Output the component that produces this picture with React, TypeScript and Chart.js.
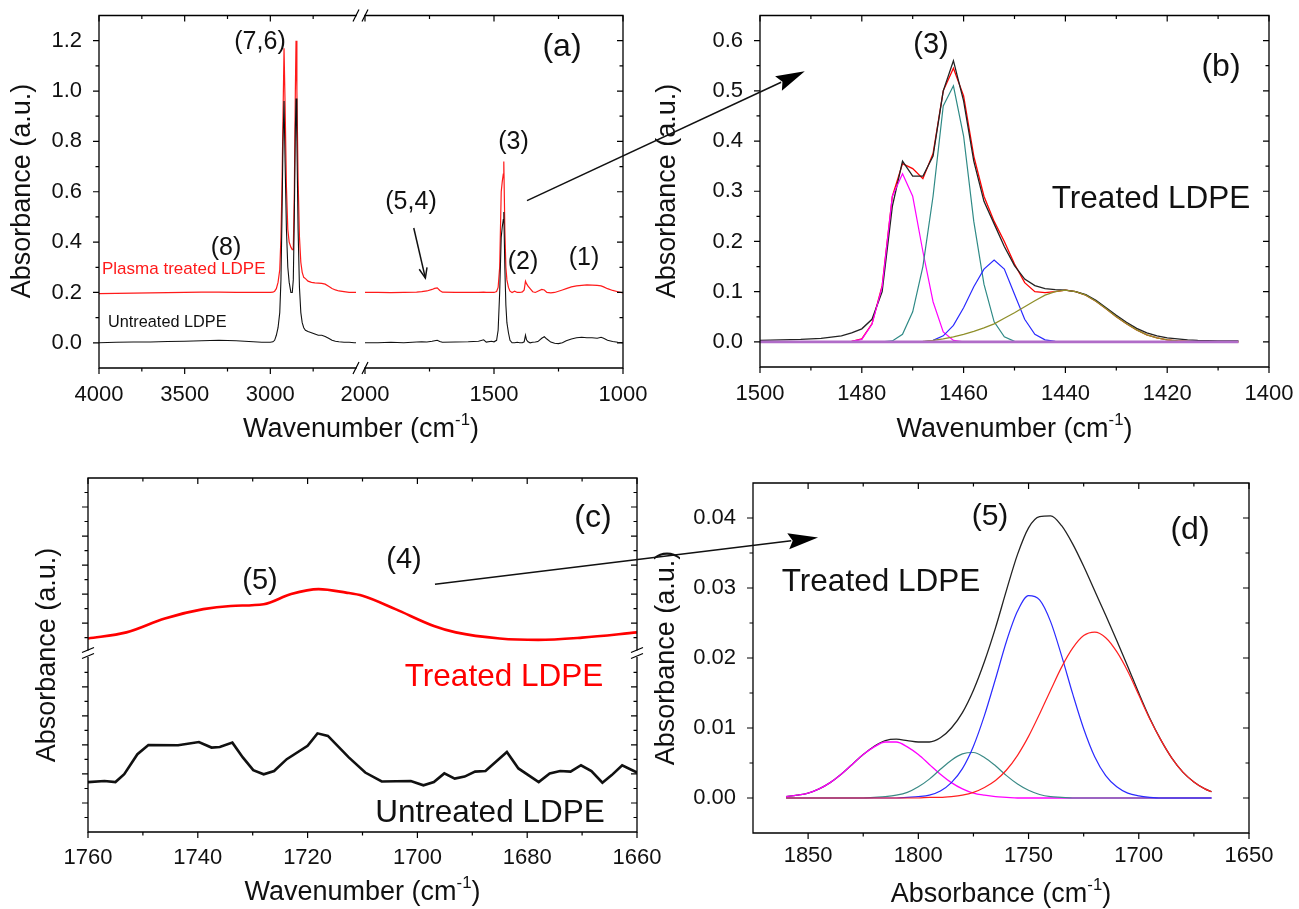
import { useEffect, useRef } from "react";
import { Chart, registerables } from "chart.js";

Chart.register(...registerables);

const FONT = "'Liberation Sans', Arial, Helvetica, sans-serif";
const W = 1299;
const H = 909;

// ---------------- Panel (a): full spectra (broken wavenumber axis) ----------------
const A_L_WN = [4000, 3900, 3800, 3700, 3600, 3500, 3400, 3300, 3200, 3100, 3050, 3000, 2985, 2975, 2965, 2955, 2945, 2938, 2932, 2926, 2920, 2914, 2906, 2898, 2890, 2880, 2872, 2866, 2860, 2854, 2850, 2845, 2838, 2830, 2822, 2814, 2805, 2795, 2780, 2760, 2740, 2720, 2700, 2680, 2660, 2640, 2620, 2600, 2570, 2540, 2510, 2500];
const A_L_TREATED = [0.195, 0.196, 0.197, 0.198, 0.199, 0.2, 0.201, 0.201, 0.2, 0.2, 0.2, 0.2, 0.201, 0.205, 0.215, 0.24, 0.29, 0.42, 0.62, 0.9, 1.17, 0.95, 0.62, 0.45, 0.4, 0.38, 0.37, 0.37, 0.6, 1.0, 1.2, 1.0, 0.65, 0.42, 0.32, 0.28, 0.26, 0.255, 0.245, 0.24, 0.238, 0.237, 0.236, 0.233, 0.225, 0.216, 0.21, 0.206, 0.203, 0.2, 0.2, 0.2];
const A_L_UNTREATED = [0.0, 0.002, 0.003, 0.003, 0.005, 0.006, 0.008, 0.01, 0.008, 0.004, 0.002, 0.002, 0.004, 0.01, 0.03, 0.06, 0.12, 0.25, 0.5, 0.8, 0.96, 0.72, 0.45, 0.3, 0.24, 0.2, 0.2, 0.25, 0.5, 0.85, 0.97, 0.8, 0.45, 0.22, 0.12, 0.08, 0.06, 0.05, 0.045, 0.04, 0.035, 0.03, 0.03, 0.025, 0.018, 0.01, 0.006, 0.004, 0.002, 0.002, 0.0, 0.0];
const A_R_WN = [2000, 1950, 1900, 1850, 1800, 1780, 1760, 1740, 1730, 1720, 1710, 1700, 1650, 1600, 1560, 1540, 1530, 1510, 1500, 1490, 1484, 1478, 1472, 1468, 1464, 1462, 1458, 1454, 1450, 1444, 1438, 1430, 1420, 1410, 1400, 1390, 1383, 1378, 1374, 1368, 1360, 1350, 1340, 1330, 1315, 1305, 1295, 1280, 1265, 1250, 1235, 1220, 1200, 1180, 1160, 1140, 1120, 1100, 1085, 1075, 1060, 1040, 1020, 1000];
const A_R_TREATED = [0.2, 0.2, 0.199, 0.2, 0.201, 0.203, 0.206, 0.212, 0.216, 0.218, 0.208, 0.201, 0.2, 0.2, 0.2, 0.201, 0.2, 0.2, 0.2, 0.204, 0.22, 0.3, 0.6, 0.64, 0.67, 0.72, 0.45, 0.3, 0.25, 0.22, 0.205, 0.2, 0.205, 0.2, 0.2, 0.202, 0.21, 0.245, 0.235, 0.225, 0.215, 0.203, 0.2, 0.205, 0.212, 0.21, 0.2, 0.198, 0.2, 0.205, 0.21, 0.215, 0.222, 0.226, 0.228, 0.23, 0.229, 0.228, 0.226, 0.222, 0.215, 0.208, 0.203, 0.198];
const A_R_UNTREATED = [0.0, 0.0, 0.002, 0.0, 0.003, 0.004, 0.003, 0.006, 0.008, 0.01, 0.005, 0.002, 0.003, 0.004, 0.006, 0.012, 0.003, 0.006, 0.004, 0.01, 0.05, 0.2, 0.42, 0.46, 0.49, 0.52, 0.3, 0.15, 0.08, 0.04, 0.01, 0.0, 0.0, 0.002, 0.0, 0.0, 0.004, 0.03, 0.012, 0.004, 0.0, 0.002, 0.003, 0.005, 0.018, 0.024, 0.015, 0.003, -0.002, -0.003, 0.0, 0.008, 0.015, 0.02, 0.022, 0.02, 0.02, 0.018, 0.022, 0.018, 0.01, 0.005, 0.002, 0.0];
const A_Y_LABELS = [0, 0.2, 0.4, 0.6, 0.8, 1.0, 1.2];
const A_Y_MINOR = [0.1, 0.3, 0.5, 0.7, 0.9, 1.1];
const A_L_X_LABELS = [4000, 3500, 3000];
const A_L_X_MINOR = [3750, 3250, 2750];
const A_R_X_LABELS = [2000, 1500, 1000];
const A_R_X_MINOR = [1750, 1250];

// ---------------- Panel (b): 1500-1400 deconvolution ----------------
const B_MEAS_WN = [1500, 1496, 1492, 1488, 1484, 1482, 1480, 1478, 1476, 1474, 1472, 1470, 1468, 1466, 1464, 1462, 1460, 1458, 1456, 1454, 1452, 1450, 1448, 1446, 1444, 1442, 1440, 1438, 1436, 1434, 1432, 1430, 1428, 1426, 1424, 1422, 1420, 1418, 1416, 1414, 1410, 1406];
const B_MEAS = [0.003, 0.004, 0.005, 0.007, 0.012, 0.018, 0.026, 0.045, 0.1, 0.27, 0.36, 0.33, 0.33, 0.37, 0.5, 0.56, 0.48, 0.36, 0.28, 0.235, 0.19, 0.152, 0.125, 0.112, 0.106, 0.104, 0.103, 0.1, 0.094, 0.083, 0.068, 0.053, 0.039, 0.027, 0.018, 0.012, 0.008, 0.006, 0.004, 0.003, 0.002, 0.002];
const B_FIT_WN = [1484, 1482, 1480, 1478, 1476, 1474, 1472, 1470, 1468, 1466, 1464, 1462, 1460, 1458, 1456, 1454, 1452, 1450, 1448, 1446, 1444, 1442, 1440, 1438, 1436, 1434, 1432, 1430, 1428, 1426, 1424, 1422, 1420, 1418, 1416, 1414, 1410, 1406];
const B_FIT = [0.0, 0.001, 0.006, 0.036, 0.112, 0.29, 0.355, 0.345, 0.325, 0.375, 0.5, 0.545, 0.49, 0.37, 0.29, 0.24, 0.2, 0.155, 0.118, 0.1, 0.098, 0.1, 0.103, 0.1, 0.093, 0.081, 0.066, 0.05, 0.036, 0.024, 0.014, 0.008, 0.004, 0.002, 0.001, 0.0, 0.0, 0.0];
const B_P1_WN = [1484, 1482, 1480, 1478, 1476, 1474, 1472, 1470, 1468, 1466, 1464, 1462, 1460];
const B_P1 = [0, 0.001, 0.005, 0.035, 0.11, 0.29, 0.335, 0.29, 0.18, 0.08, 0.02, 0.003, 0];
const B_P2_WN = [1476, 1474, 1472, 1470, 1468, 1466, 1464, 1462, 1460, 1458, 1456, 1454, 1452, 1450, 1448];
const B_P2 = [0, 0.002, 0.015, 0.06, 0.15, 0.29, 0.47, 0.51, 0.41, 0.24, 0.115, 0.04, 0.01, 0.001, 0];
const B_P3_WN = [1468, 1466, 1464, 1462, 1460, 1458, 1456, 1454, 1452, 1450, 1448, 1446, 1444, 1442, 1440];
const B_P3 = [0, 0.003, 0.012, 0.033, 0.068, 0.11, 0.145, 0.163, 0.145, 0.095, 0.045, 0.015, 0.004, 0.001, 0];
const B_P4_WN = [1472, 1468, 1466, 1464, 1462, 1460, 1458, 1456, 1454, 1452, 1450, 1448, 1446, 1444, 1442, 1440, 1438, 1436, 1434, 1432, 1430, 1428, 1426, 1424, 1422, 1420, 1418, 1416, 1414, 1410, 1406];
const B_P4 = [0, 0.001, 0.003, 0.006, 0.01, 0.015, 0.021, 0.028, 0.036, 0.047, 0.058, 0.07, 0.082, 0.093, 0.1, 0.103, 0.1, 0.093, 0.081, 0.066, 0.05, 0.036, 0.024, 0.014, 0.008, 0.004, 0.002, 0.001, 0, 0, 0];
const B_BASE_WN = [1500, 1406];
const B_BASE = [0, 0];
const B_Y_LABELS = [0, 0.1, 0.2, 0.3, 0.4, 0.5, 0.6];
const B_Y_MINOR = [0.05, 0.15, 0.25, 0.35, 0.45, 0.55];
const B_X_LABELS = [1500, 1480, 1460, 1440, 1420, 1400];
const B_X_MINOR = [1490, 1470, 1450, 1430, 1410];

// ---------------- Panel (c): carbonyl region, offset traces ----------------
const C_TREATED_WN = [1760, 1753, 1746, 1739, 1734, 1728, 1723, 1718, 1713, 1710, 1704, 1697, 1693, 1685, 1678, 1670, 1660];
const C_TREATED = [5.67, 5.88, 6.36, 6.68, 6.79, 6.85, 7.2, 7.37, 7.25, 7.14, 6.68, 6.1, 5.88, 5.67, 5.62, 5.7, 5.88];
const C_UNTREATED_WN = [1760, 1757, 1755, 1753.4, 1751, 1749, 1743.6, 1739.8, 1737.5, 1736, 1733.7, 1731.8, 1729.9, 1728, 1726.1, 1723.8, 1720, 1718.2, 1716.3, 1712.5, 1709.5, 1706.5, 1701.2, 1698.9, 1697, 1695.1, 1693.2, 1691.4, 1689.5, 1687.6, 1683.7, 1681.6, 1677.9, 1675.9, 1674, 1672.1, 1670.2, 1668.3, 1666.3, 1664.6, 1662.7, 1660];
const C_UNTREATED = [0.72, 0.76, 0.72, 0.99, 1.68, 2.0, 1.99, 2.1, 1.91, 1.93, 2.08, 1.57, 1.13, 0.99, 1.1, 1.51, 1.97, 2.4, 2.31, 1.57, 1.05, 0.74, 0.76, 0.61, 0.72, 1.02, 0.84, 0.91, 1.08, 1.1, 1.76, 1.19, 0.72, 1.02, 1.1, 1.08, 1.3, 1.1, 0.7, 0.96, 1.3, 1.05];
const C_Y_MAJOR = [0, 1, 2, 3, 4, 6.2, 7.2, 8.2, 9.2, 10.2];
const C_Y_MINOR = [-0.5, 0.5, 1.5, 2.5, 3.5, 4.5, 5.7, 6.7, 7.7, 8.7, 9.7, 10.7];
const C_X_LABELS = [1760, 1740, 1720, 1700, 1680, 1660];
const C_X_MINOR = [1750, 1730, 1710, 1690, 1670];

// ---------------- Panel (d): 1860-1667 deconvolution ----------------
const D_WN = [1860, 1855, 1850, 1845, 1840, 1835, 1830, 1825, 1820, 1815, 1810, 1805, 1800, 1795, 1790, 1785, 1780, 1775, 1770, 1765, 1760, 1755, 1750, 1745, 1740, 1735, 1730, 1725, 1720, 1715, 1710, 1705, 1700, 1695, 1690, 1685, 1680, 1675, 1670, 1667];
const D_TOTAL = [0.0002, 0.0004, 0.0007, 0.0013, 0.0022, 0.0034, 0.0048, 0.0062, 0.0074, 0.0082, 0.0084, 0.0082, 0.008, 0.008, 0.0086, 0.01, 0.0122, 0.0154, 0.0195, 0.0243, 0.0297, 0.0348, 0.0386, 0.0402, 0.0403, 0.0389, 0.0363, 0.0331, 0.0296, 0.0261, 0.0225, 0.0188, 0.015, 0.0114, 0.0083, 0.0057, 0.0037, 0.0023, 0.0013, 0.0009];
const D_P1 = [0.0002, 0.0004, 0.0007, 0.0013, 0.0022, 0.0034, 0.0048, 0.0062, 0.0073, 0.008, 0.008, 0.0073, 0.0062, 0.0048, 0.0034, 0.0022, 0.0013, 0.0007, 0.0004, 0.0002, 0.0001, 0, 0, 0, 0, 0, 0, 0, 0, 0, 0, 0, 0, 0, 0, 0, 0, 0, 0, 0];
const D_P2 = [0, 0, 0, 0, 0, 0, 0, 0, 0.0001, 0.0002, 0.0004, 0.0008, 0.0016, 0.0027, 0.0041, 0.0054, 0.0063, 0.0065, 0.0058, 0.0046, 0.0032, 0.002, 0.0011, 0.0005, 0.0002, 0.0001, 0, 0, 0, 0, 0, 0, 0, 0, 0, 0, 0, 0, 0, 0];
const D_P3 = [0, 0, 0, 0, 0, 0, 0, 0, 0, 0, 0, 0.0001, 0.0002, 0.0004, 0.001, 0.0022, 0.0042, 0.0074, 0.0118, 0.017, 0.0224, 0.0267, 0.0289, 0.0283, 0.0252, 0.0203, 0.0149, 0.0099, 0.0059, 0.0032, 0.0016, 0.0007, 0.0003, 0.0001, 0, 0, 0, 0, 0, 0];
const D_P4 = [0, 0, 0, 0, 0, 0, 0, 0, 0, 0, 0, 0, 0, 0.0001, 0.0001, 0.0002, 0.0004, 0.0008, 0.0015, 0.0025, 0.004, 0.0061, 0.0088, 0.012, 0.0154, 0.0187, 0.0214, 0.0232, 0.0237, 0.0229, 0.0209, 0.0181, 0.0147, 0.0113, 0.0083, 0.0057, 0.0037, 0.0023, 0.0013, 0.0009];
const D_Y_LABELS = [0, 0.01, 0.02, 0.03, 0.04];
const D_Y_MINOR = [0.005, 0.015, 0.025, 0.035];
const D_X_LABELS = [1850, 1800, 1750, 1700, 1650];
const D_X_MINOR = [1825, 1775, 1725, 1675];

// ---------------- helpers ----------------
type Part = { t: string; sup?: boolean };
type TextItem = { t: string; x: number; y: number; size: number; color?: string; align?: CanvasTextAlign };

const pts = (xs: number[], ys: number[]) => xs.map((x, i) => ({ x, y: ys[i] }));

function drawRich(ctx: CanvasRenderingContext2D, parts: Part[], cx: number, cy: number, size: number, rotate: boolean) {
  ctx.save();
  ctx.translate(cx, cy);
  if (rotate) ctx.rotate(-Math.PI / 2);
  ctx.fillStyle = "#111";
  ctx.textBaseline = "middle";
  ctx.textAlign = "left";
  const sup = size * 0.62;
  const widths = parts.map((p) => {
    ctx.font = `${p.sup ? sup : size}px ${FONT}`;
    return ctx.measureText(p.t).width;
  });
  const total = widths.reduce((a, b) => a + b, 0);
  let x = -total / 2;
  parts.forEach((p, i) => {
    ctx.font = `${p.sup ? sup : size}px ${FONT}`;
    ctx.fillText(p.t, x, p.sup ? -size * 0.34 : 0);
    x += widths[i];
  });
  ctx.restore();
}

function drawTexts(ctx: CanvasRenderingContext2D, items: TextItem[]) {
  items.forEach((it) => {
    ctx.save();
    ctx.font = `${it.size}px ${FONT}`;
    ctx.fillStyle = it.color || "#111";
    ctx.textAlign = it.align || "center";
    ctx.textBaseline = "middle";
    ctx.fillText(it.t, it.x, it.y);
    ctx.restore();
  });
}

function drawArrow(ctx: CanvasRenderingContext2D, x1: number, y1: number, x2: number, y2: number, len: number, half: number, filled: boolean) {
  const ang = Math.atan2(y2 - y1, x2 - x1);
  const bx = x2 - len * Math.cos(ang);
  const by = y2 - len * Math.sin(ang);
  const nx = -Math.sin(ang);
  const ny = Math.cos(ang);
  ctx.save();
  ctx.setLineDash([]);
  ctx.strokeStyle = "#111";
  ctx.fillStyle = "#000";
  ctx.lineWidth = 1.5;
  ctx.beginPath();
  ctx.moveTo(x1, y1);
  ctx.lineTo(filled ? bx + len * 0.1 * Math.cos(ang) : x2, filled ? by + len * 0.1 * Math.sin(ang) : y2);
  ctx.stroke();
  ctx.beginPath();
  if (filled) {
    ctx.moveTo(x2, y2);
    ctx.lineTo(bx + nx * half, by + ny * half);
    ctx.lineTo(bx + len * 0.15 * Math.cos(ang), by + len * 0.15 * Math.sin(ang));
    ctx.lineTo(bx - nx * half, by - ny * half);
    ctx.closePath();
    ctx.fill();
  } else {
    ctx.moveTo(bx + nx * half, by + ny * half);
    ctx.lineTo(x2, y2);
    ctx.lineTo(bx - nx * half, by - ny * half);
    ctx.stroke();
  }
  ctx.restore();
}

type Deco = {
  frame: { left?: boolean; right?: boolean; top?: boolean; bottom?: boolean };
  xMajor: number[];
  xMinor: number[];
  yMajor: number[];
  yMinor: number[];
};

const MAJ = 6;
const MIN = 3.5;

function drawFrame(ctx: CanvasRenderingContext2D, chart: any, d: Deco) {
  const ca = chart.chartArea;
  const xs = chart.scales.x;
  const ys = chart.scales.y;
  const f = d.frame;
  ctx.save();
  ctx.setLineDash([]);
  ctx.globalAlpha = 1;
  ctx.strokeStyle = "#000";
  ctx.lineWidth = 1.3;
  ctx.lineCap = "square";
  ctx.beginPath();
  if (f.left) { ctx.moveTo(ca.left, ca.top); ctx.lineTo(ca.left, ca.bottom); }
  if (f.right) { ctx.moveTo(ca.right, ca.top); ctx.lineTo(ca.right, ca.bottom); }
  if (f.top) { ctx.moveTo(ca.left, ca.top); ctx.lineTo(ca.right, ca.top); }
  if (f.bottom) { ctx.moveTo(ca.left, ca.bottom); ctx.lineTo(ca.right, ca.bottom); }
  ctx.stroke();
  ctx.lineCap = "butt";
  ctx.lineWidth = 1.2;
  ctx.beginPath();
  const tx = (v: number, len: number) => {
    const p = xs.getPixelForValue(v);
    if (f.bottom) { ctx.moveTo(p, ca.bottom); ctx.lineTo(p, ca.bottom + len); }
    if (f.top) { ctx.moveTo(p, ca.top); ctx.lineTo(p, ca.top + len); }
  };
  const ty = (v: number, len: number) => {
    const p = ys.getPixelForValue(v);
    if (f.left) { ctx.moveTo(ca.left, p); ctx.lineTo(ca.left - len, p); }
    if (f.right) { ctx.moveTo(ca.right, p); ctx.lineTo(ca.right - len, p); }
  };
  d.xMajor.forEach((v) => tx(v, MAJ));
  d.xMinor.forEach((v) => tx(v, MIN));
  d.yMajor.forEach((v) => ty(v, MAJ));
  d.yMinor.forEach((v) => ty(v, MIN));
  ctx.stroke();
  ctx.restore();
}

const YW = 75;
const XH = 40;

function xAxis(min: number, max: number, labels: number[], fmt: (v: number) => string, padding: number) {
  return {
    type: "linear",
    reverse: true,
    min,
    max,
    grid: { display: false, drawTicks: false },
    border: { display: false },
    ticks: { autoSkip: false, maxRotation: 0, padding, color: "#111", font: { family: FONT, size: 22 }, callback: (v: any) => fmt(Number(v)) },
    afterBuildTicks: (s: any) => { s.ticks = labels.map((value) => ({ value })); },
    afterFit: (s: any) => { s.height = XH; s.paddingLeft = 0; s.paddingRight = 0; s.paddingTop = 0; s.paddingBottom = 0; },
  };
}

function yAxis(min: number, max: number, labels: number[], fmt: (v: number) => string, show: boolean) {
  return {
    type: "linear",
    min,
    max,
    display: show,
    grid: { display: false, drawTicks: false },
    border: { display: false },
    ticks: { autoSkip: false, padding: 17, color: "#111", font: { family: FONT, size: 22 }, callback: (v: any) => fmt(Number(v)) },
    afterBuildTicks: (s: any) => { s.ticks = labels.map((value) => ({ value })); },
    afterFit: (s: any) => { s.width = show ? YW : 0; s.paddingLeft = 0; s.paddingRight = 0; s.paddingTop = 0; s.paddingBottom = 0; },
  };
}

function area(left: number, right: number, top: number, bottom: number, yShown: boolean) {
  return { left: left - (yShown ? YW : 0), right: W - right, top, bottom: H - bottom - XH };
}

function baseOptions(pad: any, x: any, y: any) {
  return {
    responsive: false,
    maintainAspectRatio: false,
    animation: false,
    devicePixelRatio: 1,
    events: [],
    layout: { padding: pad },
    plugins: { legend: { display: false }, tooltip: { enabled: false } },
    elements: { point: { radius: 0 }, line: { tension: 0 } },
    scales: { x, y },
  };
}

const ds = (data: any[], color: string, width: number, smooth = false) => ({
  data,
  borderColor: color,
  borderWidth: width,
  pointRadius: 0,
  fill: false,
  cubicInterpolationMode: smooth ? "monotone" : "default",
});

const f1 = (v: number) => v.toFixed(1);
const f2 = (v: number) => v.toFixed(2);
const f0 = (v: number) => String(Math.round(v));

const WAVENUMBER: Part[] = [{ t: "Wavenumber (cm" }, { t: "-1", sup: true }, { t: ")" }];
const ABS_CM: Part[] = [{ t: "Absorbance (cm" }, { t: "-1", sup: true }, { t: ")" }];
const ABS_AU: Part[] = [{ t: "Absorbance (a.u.)" }];

const TEXTS: TextItem[] = [
  { t: "(7,6)", x: 260, y: 42, size: 25 },
  { t: "(8)", x: 226, y: 248, size: 25 },
  { t: "Plasma treated LDPE", x: 102, y: 269, size: 17, color: "#ff1a1a", align: "left" },
  { t: "Untreated LDPE", x: 108, y: 323, size: 16.3, align: "left" },
  { t: "(5,4)", x: 411, y: 202, size: 25 },
  { t: "(3)", x: 513.5, y: 142, size: 25 },
  { t: "(2)", x: 523, y: 262, size: 25 },
  { t: "(1)", x: 584, y: 258, size: 25 },
  { t: "(a)", x: 562, y: 47, size: 32 },
  { t: "(3)", x: 931, y: 45, size: 29 },
  { t: "(b)", x: 1221, y: 67, size: 32 },
  { t: "Treated LDPE", x: 1151, y: 199, size: 31.5 },
  { t: "(c)", x: 593, y: 518, size: 32 },
  { t: "(4)", x: 404, y: 560, size: 29 },
  { t: "(5)", x: 260, y: 581, size: 29 },
  { t: "Treated LDPE", x: 504, y: 677, size: 31.5, color: "#ff0000" },
  { t: "Untreated LDPE", x: 490, y: 813, size: 31.5 },
  { t: "(5)", x: 990, y: 517, size: 30 },
  { t: "(d)", x: 1190, y: 530, size: 32 },
  { t: "Treated LDPE", x: 881, y: 582, size: 31.5 },
];

const canvasStyle: any = { position: "absolute", left: 0, top: 0, width: W, height: H };

export default function App() {
  const r1 = useRef<HTMLCanvasElement>(null);
  const r2 = useRef<HTMLCanvasElement>(null);
  const r3 = useRef<HTMLCanvasElement>(null);
  const r4 = useRef<HTMLCanvasElement>(null);
  const r5 = useRef<HTMLCanvasElement>(null);
  const rOver = useRef<HTMLCanvasElement>(null);

  useEffect(() => {
    const aL = new Chart(r1.current as HTMLCanvasElement, {
      type: "line",
      data: { datasets: [ds(pts(A_L_WN, A_L_UNTREATED), "#111", 1.1), ds(pts(A_L_WN, A_L_TREATED), "#ff1a1a", 1.2)] },
      options: baseOptions(area(99, 356, 15.5, 368, true), xAxis(2500, 4000, A_L_X_LABELS, f0, 14), yAxis(-0.1, 1.3, A_Y_LABELS, f1, true)) as any,
    } as any);

    const aR = new Chart(r2.current as HTMLCanvasElement, {
      type: "line",
      data: { datasets: [ds(pts(A_R_WN, A_R_UNTREATED), "#111", 1.1), ds(pts(A_R_WN, A_R_TREATED), "#ff1a1a", 1.2)] },
      options: baseOptions(area(365, 623, 15.5, 368, false), xAxis(1000, 2000, A_R_X_LABELS, f0, 14), yAxis(-0.1, 1.3, A_Y_LABELS, f1, false)) as any,
    } as any);

    const b = new Chart(r3.current as HTMLCanvasElement, {
      type: "line",
      data: {
        datasets: [
          ds(pts(B_BASE_WN, B_BASE), "#b06cc8", 2.6),
          ds(pts(B_P4_WN, B_P4), "#8f8f2a", 1.3),
          ds(pts(B_P3_WN, B_P3), "#2a2aff", 1.2),
          ds(pts(B_P2_WN, B_P2), "#2f8a86", 1.2),
          ds(pts(B_P1_WN, B_P1), "#ff00ff", 1.2),
          ds(pts(B_MEAS_WN, B_MEAS), "#222", 1.3),
          ds(pts(B_FIT_WN, B_FIT), "#ff0000", 1.3),
        ],
      },
      options: baseOptions(area(760, 1269, 15.5, 367, true), xAxis(1400, 1500, B_X_LABELS, f0, 14), yAxis(-0.05, 0.65, B_Y_LABELS, f1, true)) as any,
    } as any);

    const c = new Chart(r4.current as HTMLCanvasElement, {
      type: "line",
      data: { datasets: [ds(pts(C_UNTREATED_WN, C_UNTREATED), "#111", 2.6), ds(pts(C_TREATED_WN, C_TREATED), "#ff0000", 2.6, true)] },
      options: baseOptions(area(88, 637, 478, 832, false), xAxis(1660, 1760, C_X_LABELS, f0, 13), yAxis(-1, 11.2, C_Y_MAJOR, f1, false)) as any,
    } as any);

    const d = new Chart(r5.current as HTMLCanvasElement, {
      type: "line",
      data: {
        datasets: [
          ds(pts(D_WN, D_P4), "#ff2020", 1.2, true),
          ds(pts(D_WN, D_P3), "#2a2aff", 1.2, true),
          ds(pts(D_WN, D_P2), "#3a8a86", 1.2, true),
          ds(pts(D_WN, D_P1), "#ff00ff", 1.3, true),
          ds(pts(D_WN, D_TOTAL), "#222", 1.3, true),
        ],
      },
      options: baseOptions(area(753, 1249, 483, 833, true), xAxis(1650, 1875, D_X_LABELS, f0, 10), yAxis(-0.005, 0.045, D_Y_LABELS, f2, true)) as any,
    } as any);

    // overlay: frames, ticks, breaks, titles, labels, arrows
    const oc = rOver.current as HTMLCanvasElement;
    const ctx = oc.getContext("2d") as CanvasRenderingContext2D;
    ctx.clearRect(0, 0, W, H);

    drawFrame(ctx, aL, { frame: { left: true, top: true, bottom: true }, xMajor: A_L_X_LABELS, xMinor: A_L_X_MINOR, yMajor: A_Y_LABELS, yMinor: A_Y_MINOR });
    drawFrame(ctx, aR, { frame: { right: true, top: true, bottom: true }, xMajor: A_R_X_LABELS, xMinor: A_R_X_MINOR, yMajor: A_Y_LABELS, yMinor: A_Y_MINOR });
    drawFrame(ctx, b, { frame: { left: true, right: true, top: true, bottom: true }, xMajor: B_X_LABELS, xMinor: B_X_MINOR, yMajor: B_Y_LABELS, yMinor: B_Y_MINOR });
    drawFrame(ctx, c, { frame: { left: true, right: true, top: true, bottom: true }, xMajor: C_X_LABELS, xMinor: C_X_MINOR, yMajor: C_Y_MAJOR, yMinor: C_Y_MINOR });
    drawFrame(ctx, d, { frame: { left: true, right: true, top: true, bottom: true }, xMajor: D_X_LABELS, xMinor: D_X_MINOR, yMajor: D_Y_LABELS, yMinor: D_Y_MINOR });

    // axis break marks, panel (a)
    ctx.save();
    ctx.strokeStyle = "#000";
    ctx.lineWidth = 1.2;
    ctx.beginPath();
    const gL = aL.chartArea.right;
    const gR = aR.chartArea.left;
    [aR.chartArea.top, aR.chartArea.bottom].forEach((yy: number) => {
      ctx.moveTo(gL - 3, yy + 6);
      ctx.lineTo(gL + 3, yy - 6);
      ctx.moveTo(gR - 3, yy + 6);
      ctx.lineTo(gR + 3, yy - 6);
    });
    ctx.stroke();
    // axis break marks, panel (c)
    const yb = c.scales.y.getPixelForValue(5.15);
    [c.chartArea.left, c.chartArea.right].forEach((xx: number) => {
      ctx.clearRect(xx - 2, yb - 3, 4, 6);
      ctx.fillStyle = "#fff";
      ctx.fillRect(xx - 2, yb - 3, 4, 6);
      ctx.beginPath();
      ctx.moveTo(xx - 6, yb - 1);
      ctx.lineTo(xx + 6, yb - 6);
      ctx.moveTo(xx - 6, yb + 5);
      ctx.lineTo(xx + 6, yb);
      ctx.stroke();
    });
    ctx.restore();

    // axis titles
    drawRich(ctx, ABS_AU, 23, 191, 27, true);
    drawRich(ctx, WAVENUMBER, 361, 430, 27, false);
    drawRich(ctx, ABS_AU, 668, 191, 27, true);
    drawRich(ctx, WAVENUMBER, 1014.5, 430, 27, false);
    drawRich(ctx, ABS_AU, 48, 655, 27, true);
    drawRich(ctx, WAVENUMBER, 362.5, 893, 27, false);
    drawRich(ctx, ABS_AU, 667, 658, 27, true);
    drawRich(ctx, ABS_CM, 1001, 895, 27, false);

    drawTexts(ctx, TEXTS);

    // arrows (endpoints given in the data coordinates of the panels they point from/to)
    drawArrow(ctx, aR.scales.x.getPixelForValue(1811), aR.scales.y.getPixelForValue(0.456), aR.scales.x.getPixelForValue(1766), aR.scales.y.getPixelForValue(0.257), 10, 4, false);
    drawArrow(ctx, aR.scales.x.getPixelForValue(1372), aR.scales.y.getPixelForValue(0.565), b.scales.x.getPixelForValue(1491.2), b.scales.y.getPixelForValue(0.539), 29, 8, true);
    drawArrow(ctx, c.scales.x.getPixelForValue(1696.8), c.scales.y.getPixelForValue(7.54), d.scales.x.getPixelForValue(1845.5), d.scales.y.getPixelForValue(0.0372), 30, 8, true);

    const charts = [aL, aR, b, c, d];
    return () => {
      charts.forEach((ch) => ch.destroy());
      ctx.clearRect(0, 0, W, H);
    };
  }, []);

  return (
    <div style={{ position: "absolute", left: 0, top: 0, width: W, height: H, background: "#fff", overflow: "hidden" }}>
      <canvas ref={r1} width={W} height={H} style={canvasStyle} />
      <canvas ref={r2} width={W} height={H} style={canvasStyle} />
      <canvas ref={r3} width={W} height={H} style={canvasStyle} />
      <canvas ref={r4} width={W} height={H} style={canvasStyle} />
      <canvas ref={r5} width={W} height={H} style={canvasStyle} />
      <canvas ref={rOver} width={W} height={H} style={canvasStyle} />
    </div>
  );
}
